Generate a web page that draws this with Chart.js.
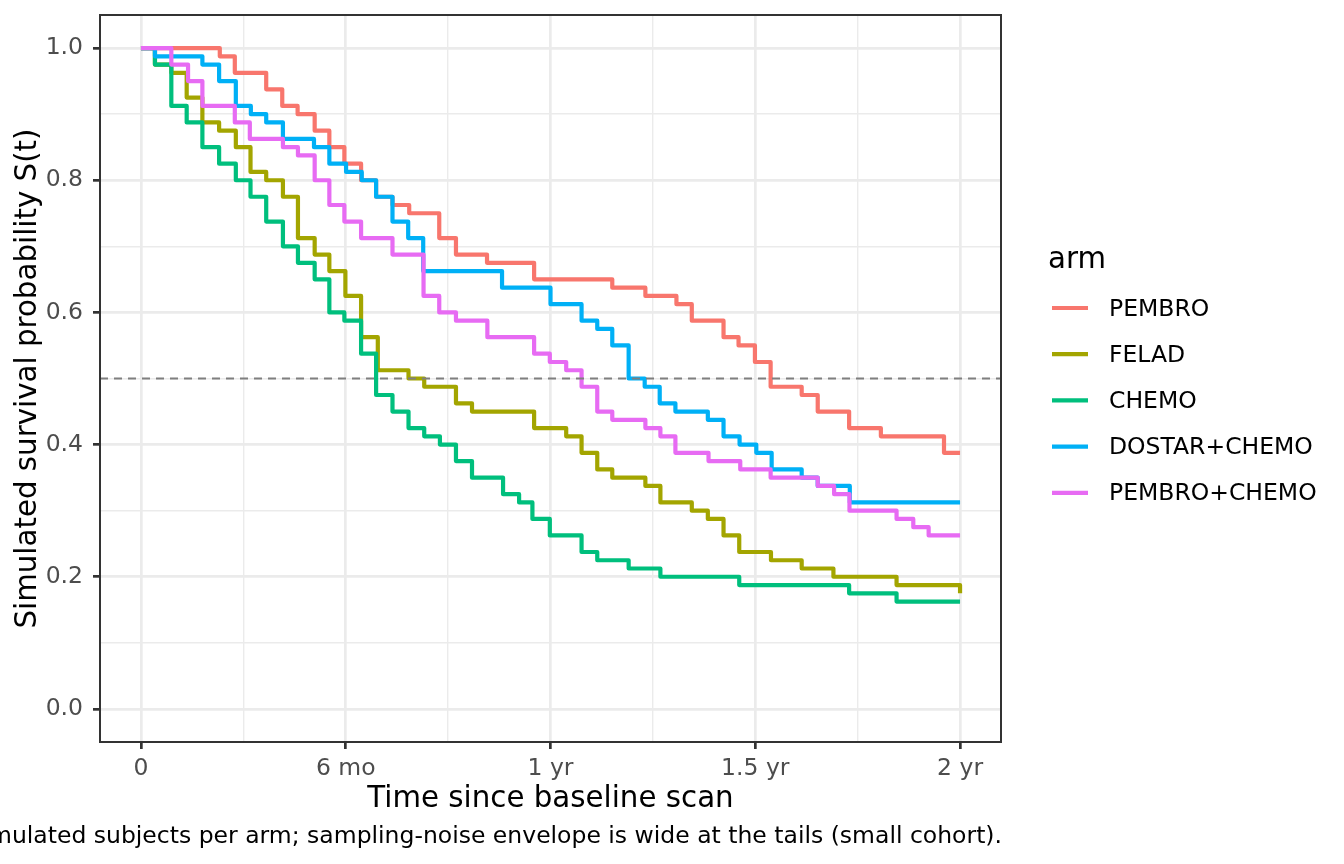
<!DOCTYPE html>
<html>
<head>
<meta charset="utf-8">
<style>
  html, body { margin: 0; padding: 0; background: #ffffff; }
  canvas { display: block; }
</style>
<script src="https://cdn.jsdelivr.net/npm/chart.js@4.4.1/dist/chart.umd.min.js"></script>
</head>
<body>
<canvas id="km" width="1344" height="864"></canvas>
<script>
  // arms, in ggplot group order
  var armNames = ['PEMBRO', 'FELAD', 'CHEMO', 'DOSTAR+CHEMO', 'PEMBRO+CHEMO'];
  var armColors = ['#F8766D', '#A3A500', '#00BF7D', '#00B0F6', '#E76BF3'];

  // event times (months) and survival after each step
  var pembroT = [0, 2.31, 2.75, 3.67, 4.14, 4.59, 5.09, 5.52, 5.96, 6.45, 6.89, 7.37, 7.86, 8.74, 9.23, 10.14, 11.52, 13.81, 14.78, 15.69, 16.14, 17.07, 17.51, 17.99, 18.45, 19.36, 19.83, 20.75, 21.68, 23.53, 24];
  var pembroS = [1, 0.9875, 0.9625, 0.9375, 0.9125, 0.9, 0.875, 0.85, 0.825, 0.8, 0.775, 0.7625, 0.75, 0.7125, 0.6875, 0.675, 0.65, 0.6375, 0.625, 0.6125, 0.5875, 0.5625, 0.55, 0.525, 0.4875, 0.475, 0.45, 0.425, 0.4125, 0.3875, 0.3875];

  var feladT = [0, 0.41, 0.89, 1.34, 1.80, 2.29, 2.78, 3.21, 3.67, 4.16, 4.60, 5.09, 5.52, 5.99, 6.45, 6.94, 7.84, 8.30, 9.23, 9.70, 11.52, 12.46, 12.91, 13.37, 13.81, 14.78, 15.22, 16.14, 16.61, 17.07, 17.53, 18.46, 19.36, 20.29, 22.14, 24];
  var feladS = [1, 0.975, 0.9625, 0.925, 0.8875, 0.875, 0.85, 0.8125, 0.8, 0.775, 0.7125, 0.6875, 0.6625, 0.625, 0.5625, 0.5125, 0.5, 0.4875, 0.4625, 0.45, 0.425, 0.4125, 0.3875, 0.3625, 0.35, 0.3375, 0.3125, 0.3, 0.2875, 0.2625, 0.2375, 0.225, 0.2125, 0.2, 0.1875, 0.175];

  var chemoT = [0, 0.41, 0.89, 1.34, 1.80, 2.29, 2.78, 3.21, 3.67, 4.16, 4.60, 5.09, 5.52, 5.96, 6.45, 6.89, 7.37, 7.84, 8.30, 8.76, 9.23, 9.70, 10.61, 11.08, 11.47, 11.98, 12.91, 13.37, 14.29, 15.22, 17.53, 20.75, 22.14, 24];
  var chemoS = [1, 0.975, 0.9125, 0.8875, 0.85, 0.825, 0.8, 0.775, 0.7375, 0.7, 0.675, 0.65, 0.6, 0.5875, 0.5375, 0.475, 0.45, 0.425, 0.4125, 0.4, 0.375, 0.35, 0.325, 0.3125, 0.2875, 0.2625, 0.2375, 0.225, 0.2125, 0.2, 0.1875, 0.175, 0.1625, 0.1625];

  var dostarT = [0, 0.41, 1.80, 2.29, 2.78, 3.22, 3.67, 4.16, 5.07, 5.52, 6.01, 6.47, 6.89, 7.37, 7.83, 8.27, 10.58, 12.00, 12.91, 13.37, 13.81, 14.29, 14.76, 15.20, 15.66, 16.61, 17.07, 17.54, 18.03, 18.48, 19.36, 19.83, 20.77, 24];
  var dostarS = [1, 0.9875, 0.975, 0.95, 0.9125, 0.9, 0.8875, 0.8625, 0.85, 0.825, 0.8125, 0.8, 0.775, 0.7375, 0.7125, 0.6625, 0.6375, 0.6125, 0.5875, 0.575, 0.55, 0.5, 0.4875, 0.4625, 0.45, 0.4375, 0.4125, 0.4, 0.3875, 0.3625, 0.35, 0.3375, 0.3125, 0.3125];

  var pembroChemoT = [0, 0.89, 1.38, 1.80, 2.75, 3.19, 4.16, 4.60, 5.09, 5.52, 5.96, 6.45, 7.37, 8.28, 8.74, 9.23, 10.15, 11.52, 11.98, 12.46, 12.91, 13.37, 13.81, 14.78, 15.22, 15.66, 16.63, 17.56, 18.45, 19.83, 20.31, 20.76, 22.14, 22.63, 23.08, 24];
  var pembroChemoS = [1, 0.975, 0.95, 0.9125, 0.8875, 0.8625, 0.85, 0.8375, 0.8, 0.7625, 0.7375, 0.7125, 0.6875, 0.625, 0.6, 0.5875, 0.5625, 0.5375, 0.525, 0.5125, 0.4875, 0.45, 0.4375, 0.425, 0.4125, 0.3875, 0.375, 0.3625, 0.35, 0.3375, 0.325, 0.3, 0.2875, 0.275, 0.2625, 0.2625];

  var medianLine = 0.5;

  // axes
  var xMin = -1.2, xMax = 25.2;
  var yMin = -0.05, yMax = 1.05;
  var xGridTicks = [0, 3, 6, 9, 12, 15, 18, 21, 24];
  var xMajorTicks = [0, 6, 12, 18, 24];
  var xTickLabels = ['0', '6 mo', '1 yr', '1.5 yr', '2 yr'];
  var yGridTicks = [0, 0.1, 0.2, 0.3, 0.4, 0.5, 0.6, 0.7, 0.8, 0.9, 1.0];
  var yMajorTicks = [0, 0.2, 0.4, 0.6, 0.8, 1.0];
  var yTickLabels = ['0.0', '0.2', '0.4', '0.6', '0.8', '1.0'];

  var xTitle = 'Time since baseline scan';
  var yTitle = 'Simulated survival probability S(t)';
  var legendTitle = 'arm';
  var caption = 'simulated subjects per arm; sampling-noise envelope is wide at the tails (small cohort).';

  var FONT = '"DejaVu Sans", Verdana, sans-serif';
  var LINE_W = 4.2;

  function toPoints(ts, ss) {
    return ts.map(function (t, i) { return { x: t, y: ss[i] }; });
  }

  function majorIndex(list, v) {
    for (var i = 0; i < list.length; i++) {
      if (Math.abs(list[i] - v) < 1e-6) return i;
    }
    return -1;
  }

  var series = [
    toPoints(pembroT, pembroS),
    toPoints(feladT, feladS),
    toPoints(chemoT, chemoS),
    toPoints(dostarT, dostarS),
    toPoints(pembroChemoT, pembroChemoS)
  ];

  var datasets = series.map(function (pts, i) {
    return {
      label: armNames[i],
      data: pts,
      borderColor: armColors[i],
      backgroundColor: armColors[i],
      borderWidth: LINE_W,
      stepped: true,
      pointRadius: 0,
      fill: false,
      borderJoinStyle: 'round',
      order: 10 - i   // later arms on top, like ggplot
    };
  });

  datasets.push({
    label: 'median',
    data: [{ x: xMin, y: medianLine }, { x: xMax, y: medianLine }],
    borderColor: '#7F7F7F',
    borderWidth: 1.8,
    borderDash: [8, 6],
    pointRadius: 0,
    fill: false,
    order: 0
  });

  var decorPlugin = {
    id: 'decor',
    afterDatasetsDraw: function (chart) {
      var ctx = chart.ctx, a = chart.chartArea;
      ctx.save();
      ctx.strokeStyle = '#333333';
      ctx.lineWidth = 2;
      ctx.strokeRect(a.left, a.top, a.right - a.left, a.bottom - a.top);
      ctx.restore();
    },
    afterDraw: function (chart) {
      var ctx = chart.ctx, a = chart.chartArea;
      ctx.save();
      ctx.fillStyle = '#000000';
      ctx.textBaseline = 'middle';

      // axis titles
      ctx.font = '29.3px ' + FONT;
      ctx.textAlign = 'center';
      ctx.fillText(xTitle, (a.left + a.right) / 2, 799);
      ctx.save();
      ctx.translate(28, (a.top + a.bottom) / 2);
      ctx.rotate(-Math.PI / 2);
      ctx.fillText(yTitle, 0, 0);
      ctx.restore();

      // legend
      ctx.textAlign = 'left';
      ctx.fillText(legendTitle, 1048, 260);
      ctx.font = '23.5px ' + FONT;
      var y0 = 308, dy = 46.2;
      armNames.forEach(function (name, i) {
        var y = y0 + i * dy;
        ctx.strokeStyle = armColors[i];
        ctx.lineWidth = LINE_W;
        ctx.beginPath();
        ctx.moveTo(1052, y);
        ctx.lineTo(1088, y);
        ctx.stroke();
        ctx.fillStyle = '#000000';
        ctx.fillText(name, 1109, y + 1.5);
      });

      // caption
      ctx.textAlign = 'right';
      ctx.fillText(caption, 1002, 837);
      ctx.restore();
    }
  };

  new Chart(document.getElementById('km').getContext('2d'), {
    type: 'line',
    data: { datasets: datasets },
    options: {
      responsive: false,
      animation: false,
      devicePixelRatio: 1,
      layout: { padding: { left: 0, top: 15, right: 343, bottom: 0 } },
      plugins: {
        legend: { display: false },
        tooltip: { enabled: false },
        title: { display: false }
      },
      scales: {
        x: {
          type: 'linear',
          min: xMin,
          max: xMax,
          afterBuildTicks: function (scale) {
            scale.ticks = xGridTicks.map(function (v) { return { value: v }; });
          },
          afterFit: function (scale) {
            scale.height = 122;
            scale.paddingLeft = 0;
            scale.paddingRight = 0;
          },
          border: { display: false },
          grid: {
            color: '#EBEBEB',
            lineWidth: function (c) { return majorIndex(xMajorTicks, c.tick.value) >= 0 ? 2.7 : 1.4; },
            tickColor: function (c) { return majorIndex(xMajorTicks, c.tick.value) >= 0 ? '#333333' : 'rgba(0,0,0,0)'; },
            tickWidth: 2.7,
            tickLength: 7
          },
          ticks: {
            autoSkip: false,
            maxRotation: 0,
            padding: 6,
            color: '#4D4D4D',
            font: { family: FONT, size: 23.5 },
            callback: function (v) {
              var k = majorIndex(xMajorTicks, v);
              return k >= 0 ? xTickLabels[k] : '';
            }
          }
        },
        y: {
          type: 'linear',
          min: yMin,
          max: yMax,
          afterBuildTicks: function (scale) {
            scale.ticks = yGridTicks.map(function (v) { return { value: v }; });
          },
          afterFit: function (scale) {
            scale.width = 100;
            scale.paddingTop = 0;
            scale.paddingBottom = 0;
          },
          border: { display: false },
          grid: {
            color: '#EBEBEB',
            lineWidth: function (c) { return majorIndex(yMajorTicks, c.tick.value) >= 0 ? 2.7 : 1.4; },
            tickColor: function (c) { return majorIndex(yMajorTicks, c.tick.value) >= 0 ? '#333333' : 'rgba(0,0,0,0)'; },
            tickWidth: 2.7,
            tickLength: 7
          },
          ticks: {
            autoSkip: false,
            padding: 10,
            color: '#4D4D4D',
            font: { family: FONT, size: 23.5 },
            callback: function (v) {
              var k = majorIndex(yMajorTicks, v);
              return k >= 0 ? yTickLabels[k] : '';
            }
          }
        }
      }
    },
    plugins: [decorPlugin]
  });
</script>
</body>
</html>
